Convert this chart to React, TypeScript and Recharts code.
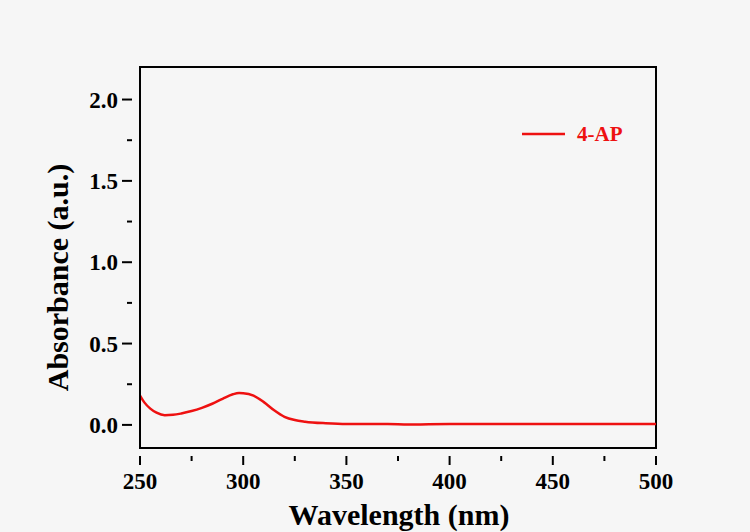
import { LineChart, Line, XAxis, YAxis, ReferenceArea } from "recharts"

const wavelengths = [250, 252, 255, 258, 262, 266, 270, 275, 280, 285, 290, 295, 298, 300, 305, 310, 315, 320, 325, 330, 340, 350, 360, 370, 380, 390, 400, 420, 440, 460, 480, 500]
const absorbance = [0.18, 0.14, 0.1, 0.075, 0.06, 0.062, 0.07, 0.085, 0.105, 0.13, 0.16, 0.188, 0.196, 0.195, 0.18, 0.14, 0.09, 0.05, 0.03, 0.02, 0.01, 0.005, 0.005, 0.006, 0.002, 0.004, 0.005, 0.005, 0.005, 0.005, 0.005, 0.005]

const xTicks = [250, 275, 300, 325, 350, 375, 400, 425, 450, 475, 500]
const yTicks = [0, 0.25, 0.5, 0.75, 1, 1.25, 1.5, 1.75, 2]

const data = wavelengths.map((w, i) => ({ w, a: absorbance[i] }))

const font = "'Liberation Serif', 'Times New Roman', serif"
const red = "#ee1111"

const XTick = (props: any) => {
  const { x, y, payload } = props
  const major = payload.value % 50 === 0
  return (
    <g>
      <line x1={x} x2={x} y1={y} y2={y + (major ? 9 : 5)} stroke="#000" strokeWidth={2} />
      {major && (
        <text x={x} y={y + 33} textAnchor="middle" fontFamily={font} fontWeight="bold" fontSize={23} fill="#000">
          {payload.value}
        </text>
      )}
    </g>
  )
}

const YTick = (props: any) => {
  const { x, y, payload } = props
  const major = Math.abs(payload.value * 2 - Math.round(payload.value * 2)) < 1e-6
  return (
    <g>
      <line x1={x} x2={x - (major ? 10 : 5)} y1={y} y2={y} stroke="#000" strokeWidth={2} />
      {major && (
        <text x={x - 14} y={y + 8} textAnchor="end" fontFamily={font} fontWeight="bold" fontSize={23} fill="#000">
          {payload.value.toFixed(1)}
        </text>
      )}
    </g>
  )
}

const XTitle = (props: any) => {
  const { viewBox } = props
  return (
    <text x={viewBox.x + viewBox.width / 2 + 1} y={viewBox.y + 77} textAnchor="middle" fontFamily={font} fontWeight="bold" fontSize={30} fill="#000">
      Wavelength (nm)
    </text>
  )
}

const YTitle = (props: any) => {
  const { viewBox } = props
  const cx = viewBox.x - 12
  const cy = viewBox.y + viewBox.height / 2 + 20
  return (
    <text x={cx} y={cy} transform={`rotate(-90 ${cx} ${cy})`} textAnchor="middle" fontFamily={font} fontWeight="bold" fontSize={30} fill="#000">
      Absorbance (a.u.)
    </text>
  )
}

export default function App() {
  return (
    <div style={{ position: "absolute", left: 0, top: 0, width: 750, height: 532, background: "#f6f6f6" }}>
      <LineChart width={750} height={532} data={data} margin={{ top: 67, right: 94, bottom: 0, left: 80 }}>
        <XAxis
          dataKey="w"
          type="number"
          domain={[250, 500]}
          ticks={xTicks}
          height={84}
          axisLine={{ stroke: "#000", strokeWidth: 2 }}
          tickLine={false}
          tick={<XTick />}
          interval={0}
          label={<XTitle />}
        />
        <YAxis
          type="number"
          domain={[-0.142, 2.2]}
          ticks={yTicks}
          width={60}
          allowDataOverflow
          axisLine={{ stroke: "#000", strokeWidth: 2 }}
          tickLine={false}
          tick={<YTick />}
          interval={0}
          label={<YTitle />}
        />
        <ReferenceArea x1={250} x2={500} y1={-0.142} y2={2.2} fill="none" stroke="#000" strokeWidth={2} />
        <Line type="monotone" dataKey="a" stroke={red} strokeWidth={2.5} dot={false} isAnimationActive={false} />
      </LineChart>
      <div style={{ position: "absolute", left: 520, top: 119 }}>
        <svg width={120} height={30}>
          <line x1={2} x2={45} y1={15} y2={15} stroke={red} strokeWidth={2.5} />
          <text x={57} y={22} fontFamily={font} fontWeight="bold" fontSize={21} fill={red}>4-AP</text>
        </svg>
      </div>
    </div>
  )
}
